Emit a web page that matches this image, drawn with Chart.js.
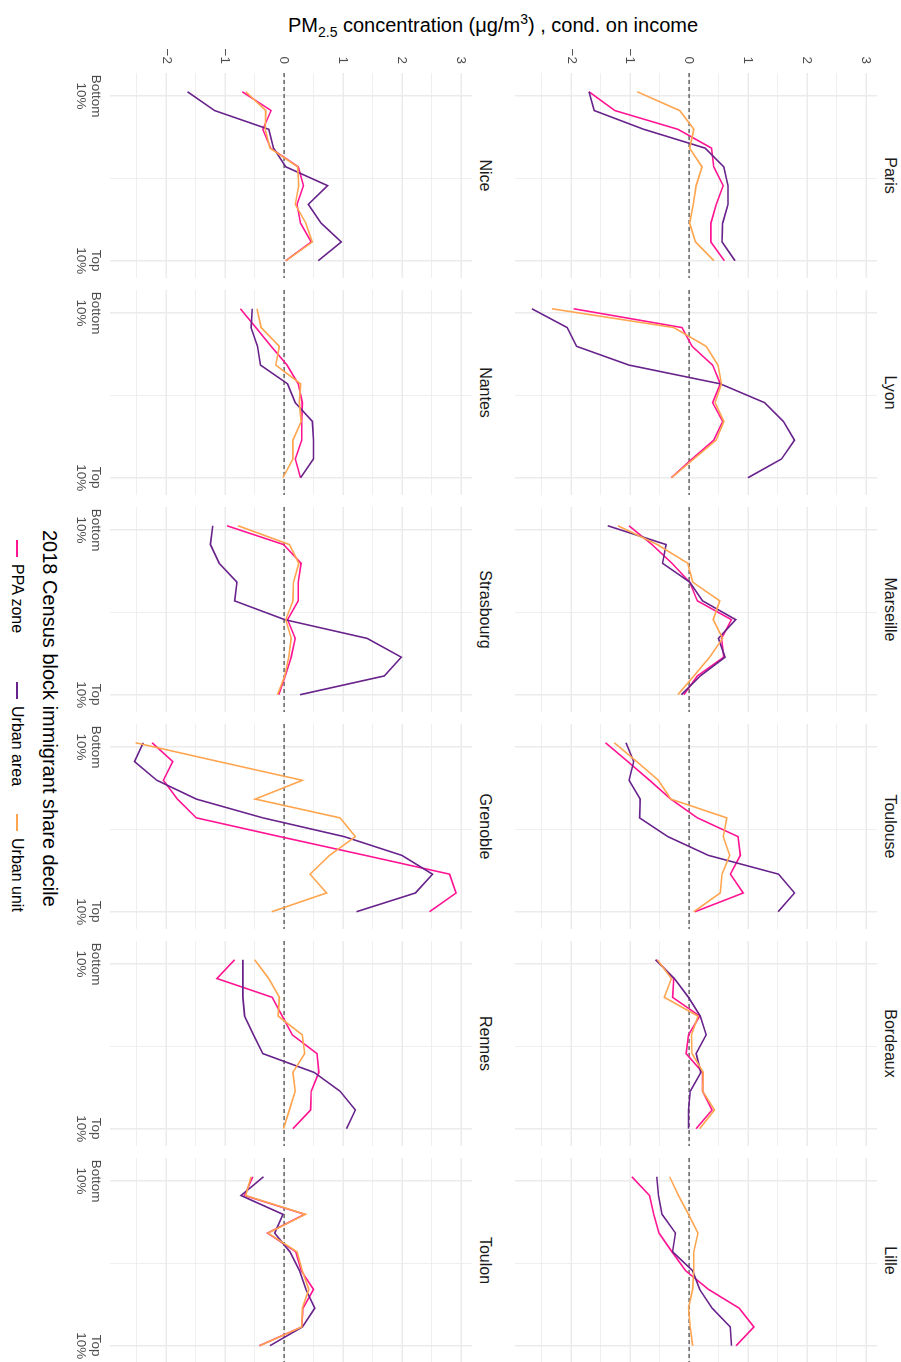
<!DOCTYPE html>
<html>
<head>
<meta charset="utf-8">
<script src="https://cdn.jsdelivr.net/npm/chart.js@4/dist/chart.umd.min.js"></script>
<style>
  html, body { margin: 0; padding: 0; background: #fff; }
  body { width: 901px; height: 1362px; position: relative; overflow: hidden;
         font-family: "Liberation Sans", Arial, sans-serif; }
  #title { position: absolute; left: 493px; top: 12px; transform: translateX(-50%);
           white-space: nowrap; font-size: 20px; line-height: 26px; color: #000; }
  #title sub, #title sup { font-size: 14px; line-height: 0; }
  /* the facet grid is laid out landscape and turned a quarter turn clockwise */
  #stage { position: absolute; left: 0; top: 0; width: 1362px; height: 901px;
           transform-origin: 0 0; transform: translate(901px, 0) rotate(90deg); }
  #stage canvas { position: absolute; }
  .strip { position: absolute; text-align: center; font-size: 16px; line-height: 18px; color: #1a1a1a; white-space: nowrap; }
  #legend { position: absolute; left: 530px; top: 840px; width: 400px; height: 60px; color: #000; white-space: nowrap; }
  #legend .lt { position: absolute; left: 0; top: 0; font-size: 20px; line-height: 22px; }
  #legend .item { position: absolute; top: 35px; display: flex; align-items: center; font-size: 16px; line-height: 18px; }
  #legend .key { width: 17px; height: 18px; position: relative; margin-right: 7px; }
  #legend .key i { position: absolute; left: 0; right: 0; top: 8px; height: 1.6px; }
</style>
</head>
<body>
<div id="title">PM<sub>2.5</sub> concentration (μg/m<sup>3</sup>) , cond. on income</div>
<div id="stage">
  <div id="legend"><div class="lt">2018 Census block immigrant share decile</div></div>
</div>
<script>
// Facets, in reading order (two rows of six)
const CITIES = ['Paris', 'Lyon', 'Marseille', 'Toulouse', 'Bordeaux', 'Lille',
                'Nice', 'Nantes', 'Strasbourg', 'Grenoble', 'Rennes', 'Toulon'];
const DECILES = [1, 2, 3, 4, 5, 6, 7, 8, 9, 10];
const SERIES = ['PPA zone', 'Urban area', 'Urban unit'];
const COLORS = ['#FF1493', '#68228B', '#FFA54F'];

// Value-axis ticks (labelled) and decile-axis tick labels
const VALUE_TICKS = [-2, -1, 0, 1, 2, 3];
const DECILE_TICK_LABELS = [['Bottom', '10%'], ['Top', '10%']];
const ZERO_LINE = [0];

// PM2.5 gap by immigrant-share decile, one row per city (same order as CITIES)
const PPA_ZONE = [
  [-1.70, -1.26, -0.19, 0.38, 0.42, 0.58, 0.46, 0.37, 0.37, 0.60],   // Paris
  [-1.96, -0.12, 0.05, 0.40, 0.53, 0.40, 0.57, 0.42, 0.05, -0.30],   // Lyon
  [-1.02, -0.63, -0.29, 0.01, 0.14, 0.72, 0.55, 0.59, 0.14, -0.09],  // Marseille
  [-1.42, -1.04, -0.67, -0.31, 0.14, 0.83, 0.87, 0.70, 0.92, 0.10], // Toulouse
  [-0.56, -0.26, -0.28, 0.18, -0.01, -0.05, 0.23, 0.23, 0.39, 0.12], // Bordeaux
  [-0.97, -0.67, -0.60, -0.51, -0.29, -0.06, 0.33, 0.85, 1.10, 0.80],// Lille
  [-0.71, -0.22, -0.36, -0.23, 0.24, 0.33, 0.22, 0.28, 0.46, 0.03],  // Nice
  [-0.74, -0.48, -0.22, 0.05, 0.24, 0.31, 0.30, 0.30, 0.19, 0.28],   // Nantes
  [-0.97, -0.01, 0.29, 0.24, 0.24, 0.06, 0.19, 0.12, 0.02, -0.09],   // Strasbourg
  [-2.24, -1.89, -2.05, -1.81, -1.49, -0.07, 1.38, 2.81, 2.92, 2.47],// Grenoble
  [-0.84, -1.14, -0.20, -0.03, 0.14, 0.56, 0.59, 0.46, 0.45, 0.15],  // Rennes
  [-0.53, -0.67, 0.35, -0.28, 0.20, 0.29, 0.50, 0.32, 0.30, -0.42]   // Toulon
];
const URBAN_AREA = [
  [-1.70, -1.61, -0.77, 0.27, 0.59, 0.66, 0.66, 0.57, 0.56, 0.78],   // Paris
  [-2.67, -2.07, -1.91, -1.02, 0.53, 1.28, 1.60, 1.79, 1.57, 1.00],  // Lyon
  [-1.38, -0.39, -0.45, 0.01, 0.23, 0.79, 0.50, 0.61, 0.19, -0.13],  // Marseille
  [-1.07, -0.94, -1.02, -0.83, -0.84, -0.36, 0.33, 1.52, 1.79, 1.51],// Toulouse
  [-0.57, -0.25, -0.01, 0.19, 0.29, 0.12, 0.20, 0.02, -0.01, -0.01], // Bordeaux
  [-0.55, -0.52, -0.46, -0.23, -0.28, 0.06, 0.18, 0.39, 0.70, 0.72], // Lille
  [-1.64, -1.18, -0.26, -0.18, 0.03, 0.74, 0.41, 0.63, 0.97, 0.58],  // Nice
  [-0.54, -0.56, -0.45, -0.40, 0.06, 0.19, 0.48, 0.50, 0.50, 0.28],  // Nantes
  [-1.21, -1.25, -1.10, -0.80, -0.84, 0.01, 1.41, 1.99, 1.70, 0.27], // Strasbourg
  [-2.39, -2.54, -2.16, -1.49, -0.36, 1.02, 2.00, 2.52, 2.23, 1.23], // Grenoble
  [-0.70, -0.70, -0.70, -0.67, -0.52, -0.36, 0.51, 0.95, 1.21, 1.06],// Rennes
  [-0.35, -0.73, -0.02, -0.16, 0.10, 0.26, 0.37, 0.52, 0.31, -0.24] // Toulon
];
const URBAN_UNIT = [
  [-0.88, -0.16, 0.08, 0.01, 0.22, 0.12, 0.07, 0.01, 0.11, 0.42],    // Paris
  [-2.33, -0.26, 0.29, 0.49, 0.55, 0.44, 0.59, 0.46, 0.08, -0.30],   // Lyon
  [-1.21, -0.54, -0.02, 0.06, 0.52, 0.41, 0.57, 0.35, 0.08, -0.19],  // Marseille
  [-1.27, -0.89, -0.52, -0.31, 0.64, 0.58, 0.69, 0.56, 0.53, 0.08],  // Toulouse
  [-0.54, -0.30, -0.42, 0.15, 0.04, 0.05, 0.24, 0.23, 0.43, 0.18],   // Bordeaux
  [-0.33, -0.18, -0.01, 0.15, 0.08, 0.08, 0.06, -0.01, 0.02, 0.06],  // Lille
  [-0.65, -0.31, -0.32, -0.24, 0.23, 0.25, 0.19, 0.37, 0.48, 0.03],  // Nice
  [-0.46, -0.39, -0.08, -0.14, 0.28, 0.26, 0.29, 0.15, 0.15, -0.02], // Nantes
  [-0.78, 0.09, 0.25, 0.16, 0.15, 0.03, 0.12, 0.08, 0.01, -0.11],    // Strasbourg
  [-2.52, -1.11, 0.31, -0.49, 0.95, 1.21, 0.77, 0.44, 0.72, -0.21],  // Grenoble
  [-0.50, -0.26, -0.08, -0.10, 0.31, 0.35, 0.15, 0.19, 0.09, -0.01], // Rennes
  [-0.56, -0.65, 0.36, -0.27, 0.22, 0.31, 0.42, 0.31, 0.30, -0.41]   // Toulon
];
const SERIES_VALUES = [PPA_ZONE, URBAN_AREA, URBAN_UNIT];

// Panel geometry (landscape layout, before the quarter turn)
const FONT = '"Liberation Sans", Arial, sans-serif';
const PANEL_X0 = 73, PANEL_PITCH = 217, PW = 205, PH = 362;
const PANEL_TOP = [24, 429];
const X_MIN = 0.0, X_MAX = 10.92;
const Y_MIN = -2.955, Y_MAX = 3.19;
const X_GRID = [1.23, 5.615, 10];            // labelled breaks + minor line between
const Y_GRID = [-2.5, -2, -1.5, -1, -0.5, 0, 0.5, 1, 1.5, 2, 2.5, 3];
const LEGEND_KEY_X = [10, 152, 284];          // legend entry offsets inside the legend box

const stage = document.getElementById('stage');
const fmt = v => (v < 0 ? '\u2212' + Math.abs(v) : String(v));

CITIES.forEach((city, i) => {
  const col = i % 6, row = Math.floor(i / 6);
  const showY = col === 0, showX = row === 1;
  const L = showY ? 60 : 0, B = showX ? 50 : 0;
  const left = PANEL_X0 + col * PANEL_PITCH, top = PANEL_TOP[row];

  const strip = document.createElement('div');
  strip.className = 'strip';
  strip.textContent = city;
  strip.style.left = left + 'px';
  strip.style.width = PW + 'px';
  strip.style.top = (top - 22) + 'px';
  stage.appendChild(strip);

  const canvas = document.createElement('canvas');
  canvas.width = PW + L;
  canvas.height = PH + B;
  canvas.style.left = (left - L) + 'px';
  canvas.style.top = top + 'px';
  stage.appendChild(canvas);

  const datasets = SERIES.map((name, s) => ({
    label: name,
    data: DECILES.map((d, k) => ({ x: d, y: SERIES_VALUES[s][i][k] })),
    borderColor: COLORS[s],
    borderWidth: 1.6,
    pointRadius: 0,
    tension: 0,
    fill: false,
    order: 3 - s
  }));
  datasets.push({
    label: 'zero',
    data: [{ x: X_MIN, y: ZERO_LINE[0] }, { x: X_MAX, y: ZERO_LINE[0] }],
    borderColor: '#222',
    borderWidth: 1,
    borderDash: [4, 3],
    pointRadius: 0,
    fill: false,
    order: 10
  });

  new Chart(canvas, {
    type: 'line',
    data: { datasets },
    options: {
      responsive: false,
      animation: false,
      devicePixelRatio: 1,
      layout: { padding: 0 },
      plugins: { legend: { display: false }, tooltip: { enabled: false } },
      scales: {
        x: {
          type: 'linear', min: X_MIN, max: X_MAX,
          afterBuildTicks: s => { s.ticks = X_GRID.map(v => ({ value: v })); },
          afterFit: s => { s.height = B; s.paddingLeft = 0; s.paddingRight = 0; },
          border: { display: false },
          grid: { color: '#EBEBEB', drawTicks: false,
                  lineWidth: ctx => (ctx.index === 1 ? 0.8 : 1.5) },
          ticks: {
            display: showX, autoSkip: false, maxRotation: 0, minRotation: 0, padding: 7,
            color: '#4D4D4D', font: { family: FONT, size: 13.5, lineHeight: 1.1 },
            callback: (v, idx) => (idx === 0 ? DECILE_TICK_LABELS[0] : idx === 2 ? DECILE_TICK_LABELS[1] : '')
          }
        },
        y: {
          type: 'linear', min: Y_MIN, max: Y_MAX,
          afterBuildTicks: s => { s.ticks = Y_GRID.map(v => ({ value: v })); },
          afterFit: s => { s.width = L; s.paddingTop = 0; s.paddingBottom = 0; },
          border: { display: false },
          grid: { color: '#EBEBEB', drawTicks: false,
                  lineWidth: ctx => (Number.isInteger(ctx.tick.value) ? 1.5 : 0.8) },
          ticks: {
            display: showY, padding: 9, color: '#4D4D4D', font: { family: FONT, size: 13.5 },
            callback: v => (VALUE_TICKS.includes(v) ? fmt(v) : '')
          }
        }
      }
    }
  });
});

// Shared legend
const legend = document.getElementById('legend');
SERIES.forEach((name, s) => {
  const it = document.createElement('div');
  it.className = 'item';
  it.style.left = LEGEND_KEY_X[s] + 'px';
  it.innerHTML = '<span class="key"><i style="background:' + COLORS[s] + '"></i></span><span></span>';
  it.lastChild.textContent = name;
  legend.appendChild(it);
});
</script>
</body>
</html>
